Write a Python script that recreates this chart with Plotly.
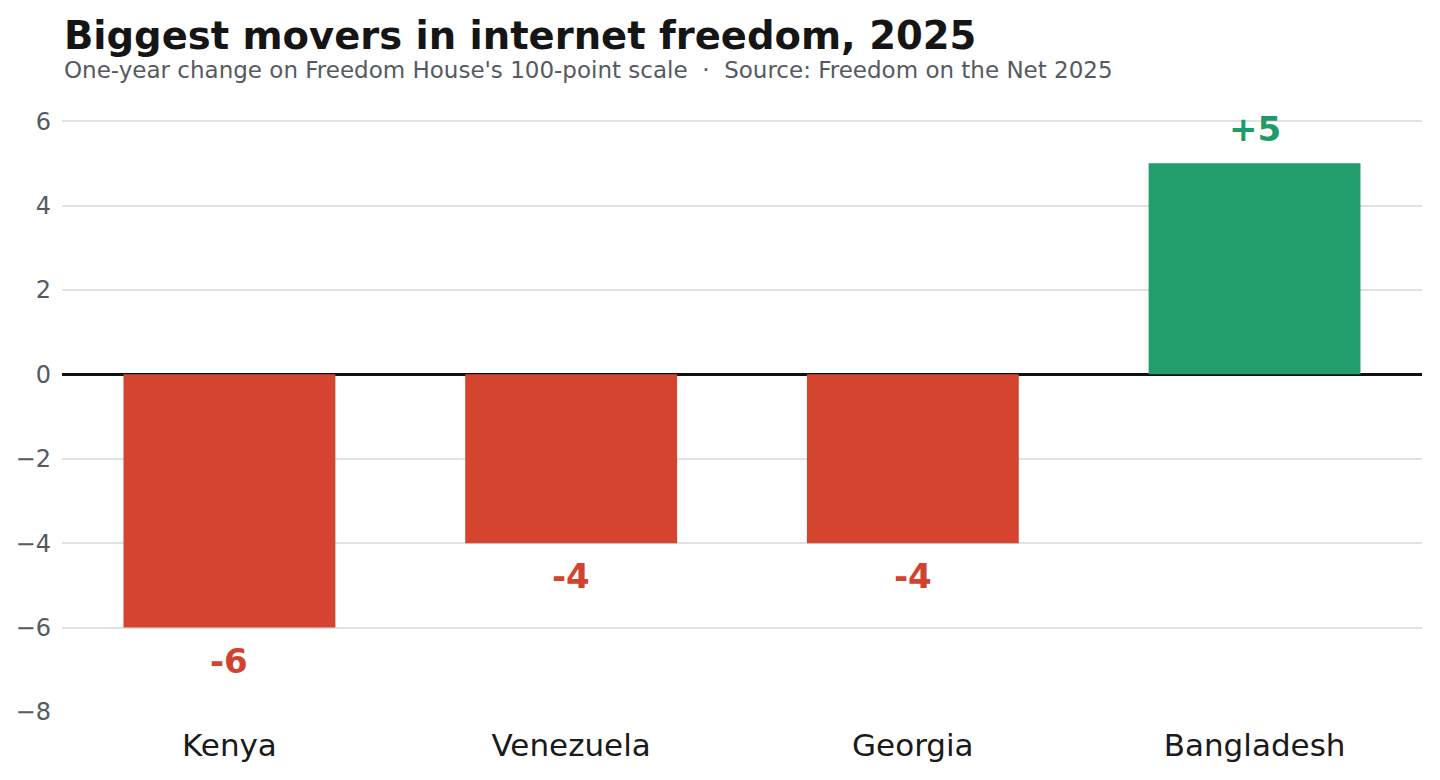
import plotly.graph_objects as go

countries = ["Kenya", "Venezuela", "Georgia", "Bangladesh"]
changes = [-6, -4, -4, 5]
labels = ["-6", "-4", "-4", "+5"]

RED = "#d4442f"
GREEN = "#219e6b"
bar_colors = [GREEN if v > 0 else RED for v in changes]
text_colors = ["#1f9a69" if v > 0 else "#d1432f" for v in changes]

fig = go.Figure()
fig.add_trace(go.Bar(
    x=countries, y=changes,
    marker=dict(color=bar_colors, line=dict(width=0)),
    width=0.62,
    hoverinfo="skip",
))

# value labels above / below the bars
for c, v, t, col in zip(countries, changes, labels, text_colors):
    fig.add_annotation(
        x=c, y=v, text="<b>%s</b>" % t, showarrow=False,
        yanchor="middle", yshift=34 if v > 0 else -33,
        font=dict(size=34, color=col, family="DejaVu Sans"),
    )

# title + subtitle, placed relative to the top of the plot area
fig.add_annotation(
    xref="paper", yref="paper", x=0, y=1 + 64 / 612, xanchor="left", yanchor="middle",
    text="<b>Biggest movers in internet freedom, 2025</b>", showarrow=False,
    font=dict(size=38.5, color="#151515", family="DejaVu Sans"),
)
fig.add_annotation(
    xref="paper", yref="paper", x=0, y=1 + 30 / 612, xanchor="left", yanchor="middle",
    text="One-year change on Freedom House's 100-point scale  ·  Source: Freedom on the Net 2025",
    showarrow=False,
    font=dict(size=23, color="#555a62", family="DejaVu Sans"),
)

fig.update_layout(
    width=1440, height=780,
    margin=dict(l=54, r=26, t=92, b=76, autoexpand=False),
    paper_bgcolor="white", plot_bgcolor="white",
    showlegend=False,
    font=dict(family="DejaVu Sans"),
    xaxis=dict(
        range=[-0.49, 3.49], showgrid=False, showline=False, ticks="",
        ticklabelstandoff=12, automargin=False,
        tickfont=dict(size=31, color="#1a1a1a"),
    ),
    yaxis=dict(
        range=[-8, 6.5], tickvals=[-8, -6, -4, -2, 0, 2, 4, 6],
        showgrid=True, gridcolor="#e2e2e2", gridwidth=2,
        zeroline=True, zerolinecolor="#111111", zerolinewidth=3,
        showline=False, ticks="", ticklabelstandoff=10, automargin=False,
        tickfont=dict(size=24, color="#555a62"),
    ),
)

fig.write_html("out.html")
